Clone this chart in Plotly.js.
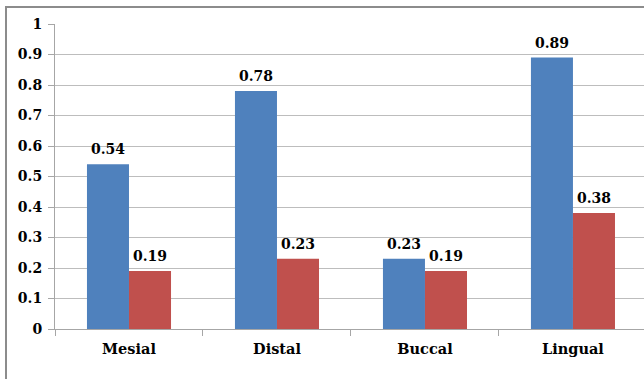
<!DOCTYPE html>
<html>
<head>
<meta charset="utf-8">
<script src="https://cdn.plot.ly/plotly-3.0.1.min.js"></script>
<style>
html,body{margin:0;padding:0;background:#fff;}
#wrap{position:relative;width:644px;height:379px;overflow:hidden;}
#chart{position:absolute;left:0;top:0;width:644px;height:379px;}
#frame{position:absolute;left:5px;top:6px;width:700px;height:420px;border:2px solid #8c8c8c;box-sizing:border-box;pointer-events:none;}
</style>
</head>
<body>
<div id="wrap"><div id="chart"></div><div id="frame"></div></div>
<script>
var categories = ["Mesial", "Distal", "Buccal", "Lingual"];
var series1 = [0.54, 0.78, 0.23, 0.89];
var series2 = [0.19, 0.23, 0.19, 0.38];
var yTicks = [0, 0.1, 0.2, 0.3, 0.4, 0.5, 0.6, 0.7, 0.8, 0.9, 1];
var yTickLabels = ["0", "0.1", "0.2", "0.3", "0.4", "0.5", "0.6", "0.7", "0.8", "0.9", "1"];

var serif = "DejaVu Serif";
var blue = "#4F81BD", red = "#C0504D";

var traces = [
  {type: "bar", x: categories, y: series1, marker: {color: blue}, name: "S1"},
  {type: "bar", x: categories, y: series2, marker: {color: red}, name: "S2"}
];

var annotations = [];
[series1, series2].forEach(function (s, si) {
  s.forEach(function (v, i) {
    annotations.push({
      x: i + (si === 0 ? -0.142 : 0.142), xref: "x", y: v, yref: "y",
      text: "<b>" + v.toFixed(2) + "</b>", showarrow: false,
      yanchor: "bottom", yshift: 5,
      font: {family: serif, size: 14, color: "#000"}
    });
  });
});

var layout = {
  width: 644, height: 379,
  margin: {l: 55, r: 0, t: 24, b: 50, pad: 0},
  paper_bgcolor: "#fff", plot_bgcolor: "#fff",
  showlegend: false,
  font: {family: serif},
  barmode: "group",
  bargap: 0.432, bargroupgap: 0,
  xaxis: {
    type: "category",
    range: [-0.5, 3.48],
    tickson: "boundaries",
    ticks: "outside", ticklen: 6, tickcolor: "#a6a6a6", tickwidth: 1,
    showline: true, linecolor: "#a6a6a6", linewidth: 1,
    showgrid: false, zeroline: false,
    tickfont: {family: serif, size: 14.5, color: "#000", weight: "bold"},
    ticklabelstandoff: 7
  },
  yaxis: {
    range: [0, 1],
    tickvals: yTicks, ticktext: yTickLabels,
    ticks: "outside", ticklen: 6, tickcolor: "#a6a6a6", tickwidth: 1,
    showline: true, linecolor: "#a6a6a6", linewidth: 1,
    showgrid: true, gridcolor: "#bdbdbd", gridwidth: 1,
    zeroline: false,
    tickfont: {family: serif, size: 14, color: "#000", weight: "bold"},
    ticklabelstandoff: 3
  },
  annotations: annotations
};

Plotly.newPlot("chart", traces, layout, {displayModeBar: false, staticPlot: true});
</script>
</body>
</html>
